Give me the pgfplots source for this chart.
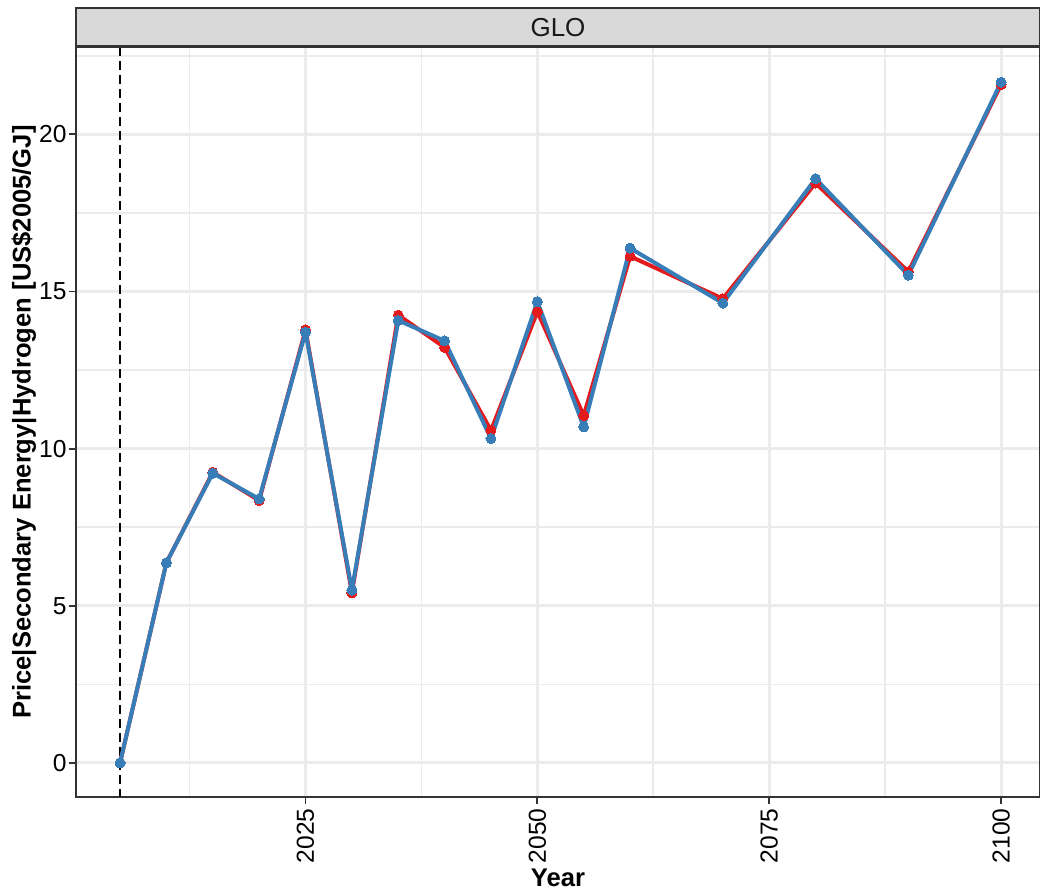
\documentclass[border=0pt]{standalone}
\usepackage{fontspec}
\setmainfont{Liberation Sans}
\usepackage{pgfplots}
\pgfplotsset{compat=1.18}
\definecolor{setred}{HTML}{E41A1C}
\definecolor{setblue}{HTML}{377EB8}
\definecolor{gridgray}{HTML}{EBEBEB}
\definecolor{stripgray}{HTML}{D9D9D9}
\definecolor{bordergray}{HTML}{333333}
\begin{document}
\begin{tikzpicture}
\begin{axis}[
  name=ax, at={(0,0)}, anchor=south west,
  scale only axis, width=482pt, height=375pt,
  xmin=2000.25, xmax=2104.2, ymin=-1.085, ymax=22.78,
  xtick={2025,2050,2075,2100}, minor xtick={2012.5,2037.5,2062.5,2087.5},
  ytick={0,5,10,15,20}, minor ytick={2.5,7.5,12.5,17.5,22.5},
  grid=both,
  major grid style={gridgray, line width=1.5pt},
  minor grid style={gridgray, line width=0.8pt},
  axis line style={bordergray, line width=0.9pt},
  tick align=outside, tick pos=left,
  major tick length=3.5pt, minor tick length=0pt,
  tick style={bordergray, line width=0.9pt},
  /pgf/number format/assume math mode=true,
  /pgf/number format/1000 sep={},
  ticklabel style={font=\fontsize{12.3}{14}\selectfont, black},
  yticklabel style={inner sep=1pt},
  xticklabel style={rotate=90, anchor=east, inner sep=2pt},
  xlabel={Year}, ylabel={Price|Secondary Energy|Hydrogen [US\$2005/GJ]},
  every axis x label/.style={at={(rel axis cs:0.5,0)}, anchor=center, yshift=-40.5pt, font=\bfseries\fontsize{12.8}{14}\selectfont},
  every axis y label/.style={at={(rel axis cs:0,0.5)}, anchor=center, xshift=-26pt, rotate=90, font=\bfseries\fontsize{12.8}{14}\selectfont},
]
\addplot[black, line width=1.1pt, dash pattern=on 4.5pt off 2.5pt] coordinates {(2005,-2) (2005,25)};
\addplot[setred, line width=2pt, line join=round, mark=*, mark size=2.5pt, mark options={solid, fill=setred, draw=setred, line width=0pt}] coordinates {
(2005,0) (2010,6.37) (2015,9.25) (2020,8.35) (2025,13.78) (2030,5.41) (2035,14.25) (2040,13.22)
(2045,10.58) (2050,14.36) (2055,11.05) (2060,16.12) (2070,14.77) (2080,18.45) (2090,15.63) (2100,21.58)};
\addplot[setblue, line width=2pt, line join=round, mark=*, mark size=2.5pt, mark options={solid, fill=setblue, draw=setblue, line width=0pt}] coordinates {
(2005,0) (2010,6.37) (2015,9.22) (2020,8.40) (2025,13.71) (2030,5.50) (2035,14.08) (2040,13.43)
(2045,10.32) (2050,14.68) (2055,10.69) (2060,16.38) (2070,14.63) (2080,18.59) (2090,15.52) (2100,21.66)};
\end{axis}
\draw[bordergray, line width=0.9pt, fill=stripgray] (ax.north west) rectangle ([yshift=19.5pt]ax.north east);
\draw[bordergray, line width=1.5pt] (ax.north west) -- (ax.north east);
\node[font=\fontsize{13}{15}\selectfont, text=black!90] at ([yshift=9.75pt]ax.north) {GLO};
\pgfresetboundingbox
\path[use as bounding box] (-38pt,-48.5pt) rectangle (482pt,398.5pt);
\end{tikzpicture}
\end{document}
